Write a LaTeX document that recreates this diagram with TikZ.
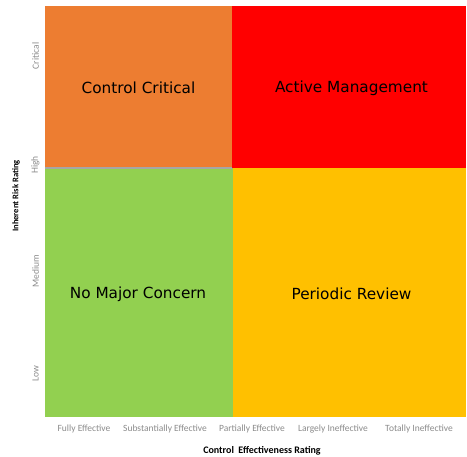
\documentclass[tikz,border=0pt]{standalone}
\usepackage{fontspec}
\setmainfont{Carlito}
\newfontfamily\quadfont{DejaVu Sans}
\definecolor{qorange}{HTML}{ED7D31}
\definecolor{qred}{HTML}{FF0000}
\definecolor{qgreen}{HTML}{92D050}
\definecolor{qyellow}{HTML}{FFC000}
\definecolor{axgray}{HTML}{8C8C8C}
\begin{document}
\begin{tikzpicture}[x=1pt,y=-1pt,
  quadlabel/.style={font=\quadfont\fontsize{15.3}{18}\selectfont, text=black, inner sep=0pt},
  ticklabel/.style={font=\fontsize{9.5}{11}\selectfont, text=axgray, inner sep=0pt},
  sidelabel/.style={ticklabel, rotate=90},
  axtitle/.style={font=\bfseries\fontsize{10}{12}\selectfont, text=black, inner sep=0pt}]
\useasboundingbox (0,0) rectangle (467,457);
\fill[white] (0,0) rectangle (467,457);
% quadrants
\fill[qorange] (45,6) rectangle (232,168);
\fill[qred] (232,6) rectangle (466,168);
\fill[qgreen] (45,168) rectangle (233,417);
\fill[qyellow] (233,168.5) rectangle (466,417);
\draw[gray!70, line width=1.2pt] (45,168) -- (232,168);
% quadrant labels
\node[quadlabel] (cc) at (138.5,88) {Control Critical};
\node[quadlabel] (am) at (351.5,88) {Active Management};
\node[quadlabel] (nm) at (138,294) {No Major Concern};
\node[quadlabel] (pr) at (351.5,294) {Periodic Review};
% y-axis ticks
\node[sidelabel] (crit) at (35.5,56) {Critical};
\node[sidelabel] (high) at (35.5,165) {High};
\node[sidelabel] (med) at (35.5,271) {Medium};
\node[sidelabel] (low) at (35.5,374) {Low};
% x-axis ticks
\node[ticklabel] (fe) at (84,429) {Fully Effective};
\node[ticklabel] (se) at (165,429) {Substantially Effective};
\node[ticklabel] (pe) at (252,429) {Partially Effective};
\node[ticklabel] (li) at (333,429) {Largely Ineffective};
\node[ticklabel] (ti) at (419,429) {Totally Ineffective};
% axis titles
\node[axtitle] (xt) at (262,451) {Control\ \ Effectiveness Rating};
\node[axtitle, rotate=90, font=\bfseries\fontsize{8.6}{10}\selectfont] (yt) at (16,196) {Inherent Risk Rating};
\end{tikzpicture}
\end{document}
